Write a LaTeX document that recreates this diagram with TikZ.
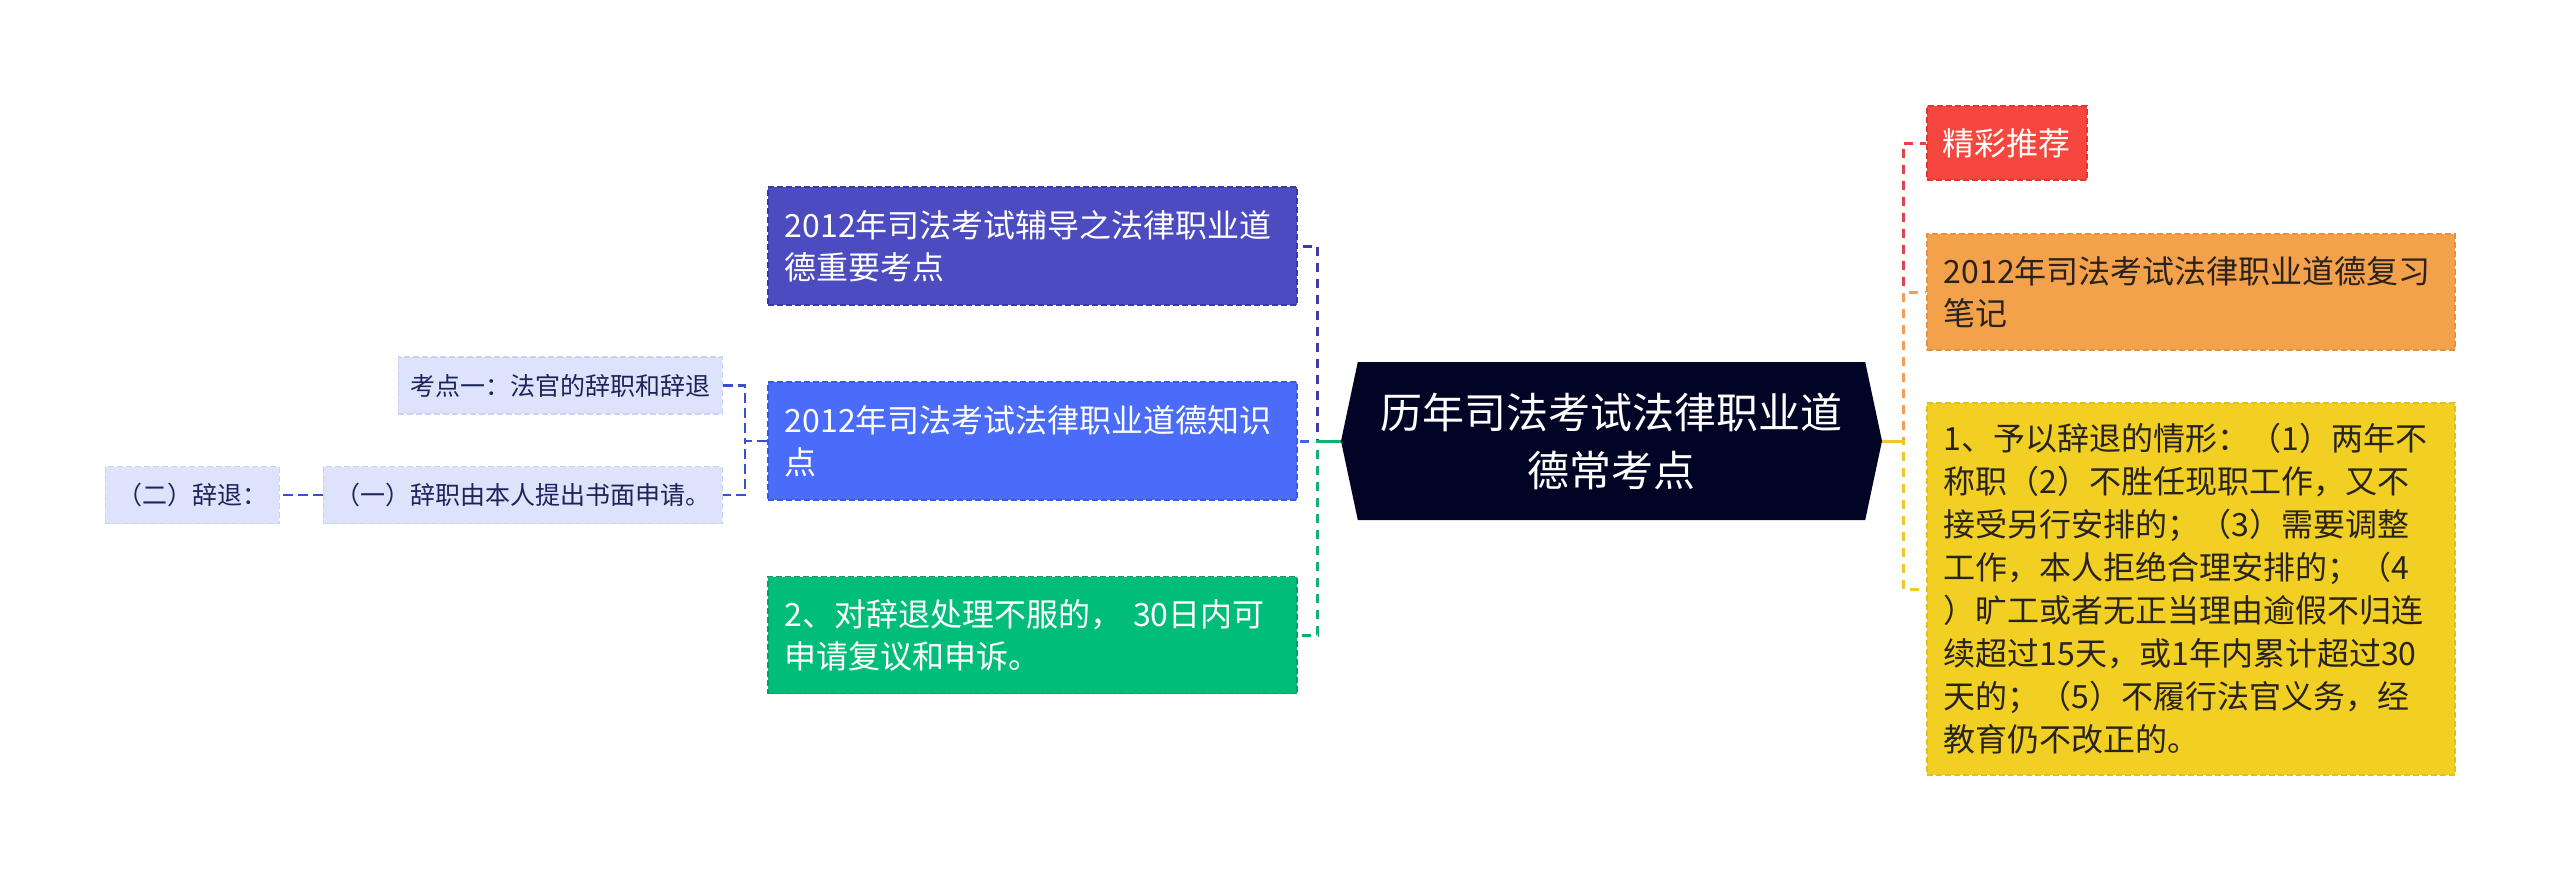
\documentclass[tikz,border=0pt]{standalone}
\usepackage{fontspec}
\setmainfont{Noto Sans CJK SC}
\usetikzlibrary{shapes.symbols}
\definecolor{cRoot}{RGB}{2,4,38}
\definecolor{cPurple}{RGB}{77,75,192}
\definecolor{cPurpleB}{RGB}{58,56,165}
\definecolor{cPurpleL}{RGB}{62,60,170}
\definecolor{cBlue}{RGB}{74,108,248}
\definecolor{cBlueB}{RGB}{58,90,225}
\definecolor{cBlueL}{RGB}{70,100,235}
\definecolor{cGreen}{RGB}{0,189,122}
\definecolor{cGreenB}{RGB}{10,160,100}
\definecolor{cGreenL}{RGB}{16,176,110}
\definecolor{cRed}{RGB}{246,70,62}
\definecolor{cRedB}{RGB}{225,55,50}
\definecolor{cRedL}{RGB}{232,64,64}
\definecolor{cOrange}{RGB}{244,161,76}
\definecolor{cOrangeB}{RGB}{230,145,65}
\definecolor{cOrangeL}{RGB}{240,160,80}
\definecolor{cYellow}{RGB}{242,208,35}
\definecolor{cYellowB}{RGB}{228,192,30}
\definecolor{cYellowL}{RGB}{240,200,40}
\definecolor{cLav}{RGB}{221,227,251}
\definecolor{cLavB}{RGB}{200,210,245}
\definecolor{cLavT}{RGB}{30,35,90}
\definecolor{cSmallL}{RGB}{55,80,205}
\definecolor{cDarkT}{RGB}{40,35,30}
\newcommand\fsz[2]{\fontsize{#1}{#2}\selectfont}
\begin{document}
\begin{tikzpicture}[x=1pt,y=-1pt,
  box/.style={rectangle, draw, dash pattern=on 6pt off 3pt, line width=1.5pt,
    inner ysep=0pt, inner xsep=17pt, align=left},
  bigtext/.style={font=\fsz{32}{42}},
  smallbox/.style={rectangle, draw=cLavB, fill=cLav, dash pattern=on 6pt off 3pt,
    line width=1.5pt, inner ysep=0pt, inner xsep=12pt, minimum height=57pt,
    text=cLavT, font=\fsz{25}{32}, anchor=east},
  conn/.style={line width=3pt, dash pattern=on 9pt off 7pt},
  sconn/.style={line width=2.2pt, dash pattern=on 10pt off 5pt, draw=cSmallL}
]
\useasboundingbox (0,0) rectangle (2560,881);

% root
\node[signal, signal to=east and west, signal pointer angle=156, fill=cRoot,
  minimum width=541pt, minimum height=158pt, inner sep=0pt, text=white,
  align=center, font=\fsz{42}{58}] (root) at (1611.5,441)
  {历年司法考试法律职业道\\德常考点};

% left main branches
\node[box, bigtext, anchor=west, fill=cPurple, draw=cPurpleB, text=white,
  text width=495pt, minimum height=118pt] (p1) at (767,246)
  {2012年司法考试辅导之法律职业道\\德重要考点};
\node[box, bigtext, anchor=west, fill=cBlue, draw=cBlueB, text=white,
  text width=495pt, minimum height=118pt] (p2) at (767,441)
  {2012年司法考试法律职业道德知识\\点};
\node[box, bigtext, anchor=west, fill=cGreen, draw=cGreenB, text=white,
  text width=495pt, minimum height=117pt] (p3) at (767,635)
  {2、对辞退处理不服的， 30日内可\\申请复议和申诉。};

% small nodes
\node[smallbox, minimum width=323pt] (k1) at (723,385.5) {考点一：法官的辞职和辞退};
\node[smallbox, minimum width=397pt] (k2) at (723,495) {（一）辞职由本人提出书面申请。};
\node[smallbox, minimum width=174pt] (k3) at (280,495) {（二）辞退：};

% right branches
\node[box, bigtext, anchor=west, fill=cRed, draw=cRedB, text=white,
  text width=130pt, inner xsep=15pt, align=center, minimum height=74pt] (r1) at (1926,143)
  {精彩推荐};
\node[box, bigtext, anchor=west, fill=cOrange, draw=cOrangeB, text=cDarkT,
  text width=494pt, minimum height=116pt] (r2) at (1926,292)
  {2012年司法考试法律职业道德复习\\笔记};
\node[box, anchor=west, fill=cYellow, draw=cYellowB, text=cDarkT,
  font=\fsz{32}{43}, text width=494pt, minimum height=372pt] (r3) at (1926,589)
  {1、予以辞退的情形：（1）两年不\\称职（2）不胜任现职工作，又不\\接受另行安排的；（3）需要调整\\工作，本人拒绝合理安排的；（4\\）旷工或者无正当理由逾假不归连\\续超过15天，或1年内累计超过30\\天的；（5）不履行法官义务，经\\教育仍不改正的。};

% connectors left
\draw[conn, cPurpleL] (root.west) -- ++(-23,0) |- (p1.east);
\draw[conn, cBlueL] (root.west) -- ++(-23,0) |- (p2.east);
\draw[conn, cGreenL] (root.west) -- ++(-23,0) |- (p3.east);
\draw[line width=3pt, cGreenL] (root.west) -- ++(-23,0);

% connectors right
\draw[conn, cRedL] (root.east) -- ++(21,0) |- (r1.west);
\draw[conn, cOrangeL] (root.east) -- ++(21,0) |- (r2.west);
\draw[conn, cYellowL] (root.east) -- ++(21,0) |- (r3.west);
\draw[line width=3pt, cYellowL] (root.east) -- ++(21,0);

% small connectors
\draw[sconn] (p2.west) -- ++(-22,0) |- (k1.east);
\draw[sconn] (p2.west) -- ++(-22,0) |- (k2.east);
\draw[sconn] (k2.west) -- (k3.east);
\end{tikzpicture}
\end{document}
